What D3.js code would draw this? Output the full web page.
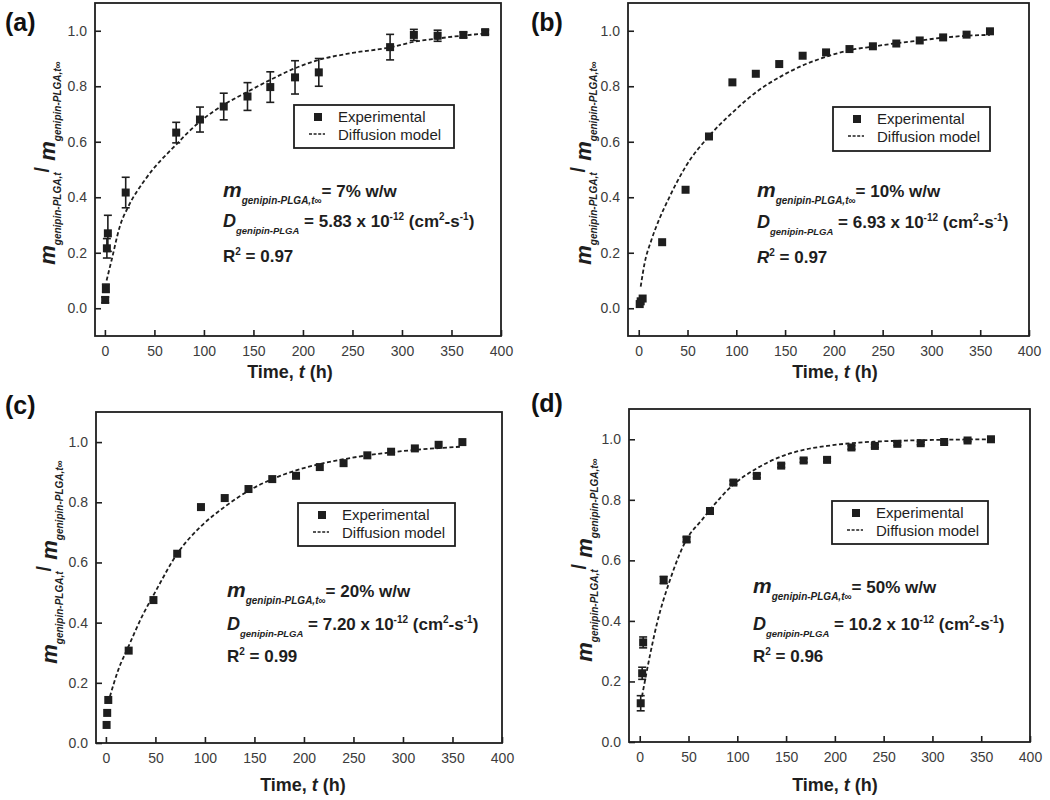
<!DOCTYPE html>
<html>
<head>
<meta charset="utf-8">
<script src="https://cdn.jsdelivr.net/npm/d3@7/dist/d3.min.js"></script>
<style>
  html, body { margin: 0; padding: 0; background: #fff; }
  svg { display: block; }
  text { font-family: "Liberation Sans", Arial, Helvetica, sans-serif; }
</style>
</head>
<body>
<svg id="chart" width="1050" height="800"></svg>
<script>
// ---------------- DATA ----------------
const xTicks = [0, 50, 100, 150, 200, 250, 300, 350, 400];
const yTicks = [0.0, 0.2, 0.4, 0.6, 0.8, 1.0];

// Panel (a): 7% w/w
const timeA = [0.3, 1, 2, 3, 21, 72, 96, 120, 144, 167, 192, 216, 288, 312, 336, 362, 384];
const expA  = [0.03, 0.072, 0.216, 0.27, 0.417, 0.633, 0.68, 0.727, 0.763, 0.797, 0.832, 0.85, 0.941, 0.985, 0.982, 0.985, 0.995];
const errA  = [0.01, 0.015, 0.035, 0.065, 0.055, 0.037, 0.045, 0.048, 0.05, 0.055, 0.06, 0.05, 0.046, 0.02, 0.02, 0.01, 0.008];
const modelTimeA = [1.7, 6.8, 15, 23.6, 40.5, 72, 96, 120, 144, 167, 192, 216, 250, 288, 312, 336, 360, 384];
const modelA     = [0.10, 0.174, 0.294, 0.366, 0.463, 0.59, 0.673, 0.733, 0.78, 0.823, 0.865, 0.895, 0.92, 0.94, 0.96, 0.972, 0.982, 0.99];

// Panel (b): 10% w/w
const timeB = [1, 2, 4, 24, 48, 72, 96, 120, 144, 168, 192, 216, 240, 264, 288, 312, 336, 360];
const expB  = [0.015, 0.025, 0.035, 0.238, 0.427, 0.619, 0.814, 0.845, 0.88, 0.91, 0.922, 0.934, 0.944, 0.954, 0.965, 0.976, 0.986, 0.998];
const modelTimeB = [2, 6, 13, 20, 30, 48, 72, 96, 120, 144, 168, 192, 216, 240, 264, 288, 312, 336, 360];
const modelB     = [0.078, 0.162, 0.246, 0.312, 0.39, 0.51, 0.62, 0.705, 0.778, 0.832, 0.875, 0.906, 0.93, 0.943, 0.955, 0.965, 0.975, 0.982, 0.985];

// Panel (c): 20% w/w
const timeC = [0.7, 1.3, 2.4, 23, 48, 72, 96, 120, 144, 168, 192, 216, 240, 264, 288, 312, 336, 360];
const expC  = [0.06, 0.1, 0.143, 0.307, 0.475, 0.629, 0.784, 0.814, 0.844, 0.877, 0.888, 0.917, 0.93, 0.956, 0.968, 0.979, 0.991, 1.0];
const modelTimeC = [4, 12.5, 22.7, 36.4, 50, 72, 96, 120, 144, 168, 192, 216, 240, 264, 288, 312, 336, 360];
const modelC     = [0.154, 0.243, 0.32, 0.42, 0.503, 0.629, 0.72, 0.785, 0.838, 0.877, 0.906, 0.927, 0.943, 0.956, 0.966, 0.974, 0.98, 0.985];

// Panel (d): 50% w/w
const timeD = [1, 2.5, 3.5, 24.5, 48, 72, 96, 120, 145, 168, 192, 217, 241, 264, 288, 312, 336, 360];
const expD  = [0.128, 0.227, 0.329, 0.535, 0.669, 0.763, 0.857, 0.879, 0.913, 0.93, 0.932, 0.973, 0.978, 0.985, 0.987, 0.991, 0.996, 1.0];
const errD  = [0.025, 0.02, 0.018, 0.012, 0.008, 0.006, 0.006, 0.006, 0.006, 0.006, 0.006, 0.006, 0.005, 0.005, 0.005, 0.004, 0.004, 0.003];
const modelTimeD = [2.3, 10.9, 17.7, 31, 48, 63.6, 72, 96, 120, 145, 168, 192, 217, 240, 264, 288, 360];
const modelD     = [0.15, 0.293, 0.392, 0.535, 0.669, 0.733, 0.767, 0.85, 0.904, 0.943, 0.965, 0.978, 0.987, 0.992, 0.995, 0.997, 1.0];

const panelLabels = ["(a)", "(b)", "(c)", "(d)"];
const loadings = ["7% w/w", "10% w/w", "20% w/w", "50% w/w"];
const diffCoefs = ["5.83", "6.93", "7.20", "10.2"];
const rSquared = ["0.97", "0.97", "0.99", "0.96"];
const legendLabels = ["Experimental", "Diffusion model"];

// ---------------- LAYOUT ----------------
const panels = [
  { time: timeA, exp: expA, err: errA, mt: modelTimeA, mv: modelA,
    frame: [95, 3, 501, 336], xMin: -10, yDom: [-0.1, 1.1],
    lab: [5, 31], ylab: [55, 163], xlab: [290, 378],
    legend: [294, 105, 454, 148], ann: [223, 197, 227, 262], rItalic: false },
  { time: timeB, exp: expB, err: null, mt: modelTimeB, mv: modelB,
    frame: [628, 3, 1029, 336], xMin: -11, yDom: [-0.1, 1.1],
    lab: [531, 31], ylab: [591, 163], xlab: [835, 378],
    legend: [833, 107, 990, 151], ann: [757, 197, 228, 263], rItalic: true },
  { time: timeC, exp: expC, err: null, mt: modelTimeC, mv: modelC,
    frame: [96, 412, 502, 743], xMin: -10, yDom: [0, 1.1],
    lab: [5, 414], ylab: [57, 562], xlab: [303, 791],
    legend: [298, 503, 455, 546], ann: [227, 597, 630, 662], rItalic: false },
  { time: timeD, exp: expD, err: errD, mt: modelTimeD, mv: modelD,
    frame: [629, 409, 1030, 742], xMin: -11, yDom: [0, 1.1],
    lab: [531, 412], ylab: [592, 560], xlab: [835, 791],
    legend: [832, 501, 988, 544], ann: [753, 593, 630, 662], rItalic: false }
];

const svg = d3.select("#chart");
const INK = "#1e1e1e";
const GREY = "#3c3c3c";

panels.forEach((p, i) => {
  const [fx0, fy0, fx1, fy1] = p.frame;
  const x = d3.scaleLinear().domain([p.xMin, 400]).range([fx0, fx1]);
  const y = d3.scaleLinear().domain(p.yDom).range([fy1, fy0]);
  const g = svg.append("g");

  // axes (ticks inward)
  const xAxis = d3.axisBottom(x).tickValues(xTicks).tickSize(-6).tickPadding(10).tickFormat(d3.format("d"));
  const yAxis = d3.axisLeft(y).tickValues(yTicks).tickSize(-6).tickPadding(8).tickFormat(d3.format(".1f"));
  const gx = g.append("g").attr("transform", `translate(0,${fy1})`).call(xAxis);
  const gy = g.append("g").attr("transform", `translate(${fx0},0)`).call(yAxis);
  [gx, gy].forEach(a => {
    a.select(".domain").remove();
    a.selectAll(".tick line").attr("stroke", INK).attr("stroke-width", 1.6);
    a.selectAll(".tick text").attr("fill", GREY).attr("font-size", 14);
  });

  // frame
  g.append("rect").attr("x", fx0).attr("y", fy0).attr("width", fx1 - fx0).attr("height", fy1 - fy0)
    .attr("fill", "none").attr("stroke", INK).attr("stroke-width", 1.8);

  // model curve
  const line = d3.line().x(d => x(d[0])).y(d => y(d[1])).curve(d3.curveMonotoneX);
  g.append("path").datum(p.mt.map((t, k) => [t, p.mv[k]]))
    .attr("d", line).attr("fill", "none").attr("stroke", INK)
    .attr("stroke-width", 1.8).attr("stroke-dasharray", "4,2.5");

  // error bars
  if (p.err) {
    const eb = g.append("g").attr("stroke", INK).attr("stroke-width", 1.6);
    p.time.forEach((t, k) => {
      const e = p.err[k];
      if (!e) return;
      const cx = x(t), ya = y(p.exp[k] + e), yb = y(p.exp[k] - e);
      eb.append("line").attr("x1", cx).attr("x2", cx).attr("y1", ya).attr("y2", yb);
      eb.append("line").attr("x1", cx - 4).attr("x2", cx + 4).attr("y1", ya).attr("y2", ya);
      eb.append("line").attr("x1", cx - 4).attr("x2", cx + 4).attr("y1", yb).attr("y2", yb);
    });
  }

  // experimental points
  const s = 8;
  g.append("g").selectAll("rect").data(p.time.map((t, k) => [t, p.exp[k]])).join("rect")
    .attr("x", d => x(d[0]) - s / 2).attr("y", d => y(d[1]) - s / 2)
    .attr("width", s).attr("height", s).attr("fill", INK);

  // panel label
  g.append("text").attr("x", p.lab[0]).attr("y", p.lab[1]).attr("font-size", 25)
    .attr("font-weight", "bold").attr("fill", "#111").text(panelLabels[i]);

  // x-axis title
  const xt = g.append("text").attr("x", p.xlab[0]).attr("y", p.xlab[1]).attr("text-anchor", "middle")
    .attr("font-size", 18).attr("font-weight", "bold").attr("fill", INK);
  xt.append("tspan").text("Time, ");
  xt.append("tspan").attr("font-style", "italic").text("t");
  xt.append("tspan").text(" (h)");

  // y-axis title
  const yt = g.append("text").attr("transform", `translate(${p.ylab[0]},${p.ylab[1]}) rotate(-90)`)
    .attr("text-anchor", "middle").attr("font-weight", "bold").attr("fill", INK);
  yt.append("tspan").attr("font-size", 22).attr("font-style", "italic").text("m");
  yt.append("tspan").attr("font-size", 10).attr("font-style", "italic").attr("dy", 6).text("genipin-PLGA,t");
  yt.append("tspan").attr("font-size", 20).attr("dy", -12).text("/");
  yt.append("tspan").attr("font-size", 22).attr("font-style", "italic").attr("dy", 6).text(" m");
  yt.append("tspan").attr("font-size", 10).attr("font-style", "italic").attr("dy", 6).text("genipin-PLGA,t∞");

  // legend
  const [lx0, ly0, lx1, ly1] = p.legend;
  g.append("rect").attr("x", lx0).attr("y", ly0).attr("width", lx1 - lx0).attr("height", ly1 - ly0)
    .attr("fill", "#fff").attr("stroke", INK).attr("stroke-width", 1.8);
  g.append("rect").attr("x", lx0 + 20).attr("y", ly0 + 8).attr("width", 8).attr("height", 8).attr("fill", INK);
  g.append("line").attr("x1", lx0 + 15).attr("x2", lx0 + 31).attr("y1", ly0 + 29).attr("y2", ly0 + 29)
    .attr("stroke", INK).attr("stroke-width", 1.6).attr("stroke-dasharray", "3,1.6");
  g.append("text").attr("x", lx0 + 44).attr("y", ly0 + 17).attr("font-size", 15).attr("fill", INK).text(legendLabels[0]);
  g.append("text").attr("x", lx0 + 44).attr("y", ly0 + 35).attr("font-size", 15).attr("fill", INK).text(legendLabels[1]);

  // annotations
  const [ax, ay1, ay2, ay3] = p.ann;
  const t1 = g.append("text").attr("x", ax).attr("y", ay1).attr("font-weight", "bold").attr("fill", INK);
  t1.append("tspan").attr("font-size", 21).attr("font-style", "italic").text("m");
  t1.append("tspan").attr("font-size", 10).attr("font-style", "italic").attr("dy", 7).text("genipin-PLGA,t∞");
  t1.append("tspan").attr("font-size", 17).attr("dy", -7).text("= " + loadings[i]);

  const t2 = g.append("text").attr("x", ax).attr("y", ay2).attr("font-weight", "bold").attr("fill", INK);
  t2.append("tspan").attr("font-size", 18).attr("font-style", "italic").text("D");
  t2.append("tspan").attr("font-size", 9.5).attr("font-style", "italic").attr("dy", 7).text("genipin-PLGA");
  t2.append("tspan").attr("font-size", 17).attr("dy", -7).text(" = " + diffCoefs[i] + " x 10");
  t2.append("tspan").attr("font-size", 10).attr("dy", -7).text("-12");
  t2.append("tspan").attr("font-size", 17).attr("dy", 7).text(" (cm");
  t2.append("tspan").attr("font-size", 10).attr("dy", -7).text("2");
  t2.append("tspan").attr("font-size", 17).attr("dy", 7).text("-s");
  t2.append("tspan").attr("font-size", 10).attr("dy", -7).text("-1");
  t2.append("tspan").attr("font-size", 17).attr("dy", 7).text(")");

  const t3 = g.append("text").attr("x", ax).attr("y", ay3).attr("font-weight", "bold").attr("fill", INK);
  t3.append("tspan").attr("font-size", 17).attr("font-style", p.rItalic ? "italic" : "normal").text("R");
  t3.append("tspan").attr("font-size", 10).attr("dy", -7).text("2");
  t3.append("tspan").attr("font-size", 17).attr("dy", 7).text(" = " + rSquared[i]);
});
</script>
</body>
</html>
